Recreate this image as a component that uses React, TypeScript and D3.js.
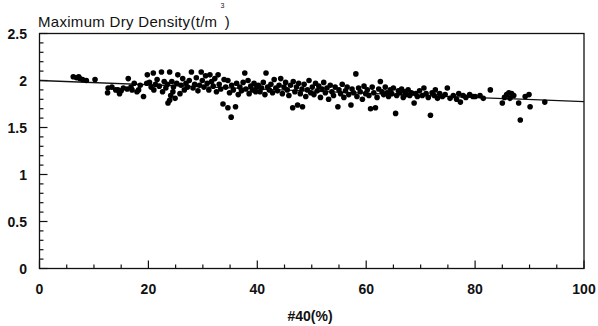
import { useEffect, useRef } from 'react';
import * as d3 from 'd3';

// #40 passing (%) vs maximum dry density (t/m3)
const samples: [number, number][] = [
  [6.2, 2.04], [6.8, 2.03], [7.2, 2.04], [7.4, 2.02], [7.9, 2.01], [8.6, 2.0], [10.2, 2.01],
  [12.6, 1.92], [12.5, 1.87], [13.3, 1.93], [14.0, 1.9], [14.4, 1.9], [14.7, 1.86], [15.0, 1.89],
  [15.4, 1.92], [16.1, 1.91], [16.3, 2.02], [16.8, 1.93], [17.0, 1.9], [17.4, 1.97], [17.9, 1.88],
  [18.2, 1.9], [18.5, 1.95], [19.1, 1.83], [19.7, 1.97], [19.8, 2.06],
  [20.2, 1.98], [20.5, 1.93], [20.9, 2.08], [21.0, 1.9], [21.3, 1.96], [21.6, 2.01], [22.0, 1.94],
  [22.4, 2.09], [22.6, 1.88], [22.9, 1.99], [23.2, 1.92], [23.5, 1.96], [23.6, 1.76], [23.9, 2.09],
  [23.9, 1.79], [24.1, 1.84], [24.3, 1.99], [24.5, 1.88], [24.6, 1.93], [24.9, 1.81], [25.2, 1.97],
  [25.4, 2.06], [25.8, 1.86], [26.0, 1.95], [26.3, 2.02], [26.6, 1.9], [26.9, 1.97], [27.2, 1.93],
  [27.5, 2.0], [27.9, 2.09], [28.2, 1.92], [28.5, 1.96], [28.8, 2.03], [29.1, 1.89], [29.4, 1.95],
  [29.7, 2.09], [29.9, 2.0],
  [30.2, 1.93], [30.5, 2.05], [30.8, 1.97], [31.1, 1.9], [31.3, 2.06], [31.6, 1.99], [31.9, 1.94],
  [32.2, 2.02], [32.5, 1.88], [32.8, 2.06], [33.0, 1.96], [33.3, 1.91], [33.7, 1.75], [33.9, 2.01],
  [34.2, 1.93], [34.6, 1.71], [34.6, 2.0], [34.9, 1.87], [35.2, 1.61], [35.3, 1.95], [35.6, 1.9],
  [36.0, 1.72], [36.2, 1.97], [36.5, 1.85], [36.8, 1.93], [37.1, 1.89], [37.4, 1.98], [37.7, 2.08],
  [37.9, 1.91], [38.3, 2.0], [38.5, 1.86], [38.8, 1.94], [39.1, 1.9], [39.4, 1.97], [39.7, 1.88],
  [39.9, 1.93],
  [40.2, 1.95], [40.5, 1.88], [40.8, 1.92], [41.1, 1.98], [41.4, 1.85], [41.6, 2.08], [41.9, 1.93],
  [42.2, 1.9], [42.5, 1.96], [42.8, 1.87], [43.1, 2.01], [43.4, 1.92], [43.7, 1.89], [44.0, 1.95],
  [44.3, 2.02], [44.6, 1.86], [44.9, 1.93], [45.2, 1.98], [45.5, 1.9], [45.8, 1.84], [46.1, 1.95],
  [46.5, 1.71], [46.6, 1.99], [46.9, 1.88], [47.2, 1.93], [47.4, 1.74], [47.6, 1.97], [47.9, 1.86],
  [48.2, 1.91], [48.3, 1.72], [48.6, 1.96], [48.9, 1.83], [49.2, 1.9], [49.5, 2.0], [49.8, 1.87],
  [50.1, 1.93], [50.4, 1.85], [50.7, 1.97], [51.0, 1.89], [51.3, 1.94], [51.6, 1.82], [51.9, 1.91],
  [52.2, 1.98], [52.5, 1.87], [52.8, 1.92], [53.1, 1.8], [53.4, 1.95], [53.7, 1.88], [54.0, 1.84],
  [54.3, 1.93], [54.8, 1.72], [55.0, 1.9], [55.3, 1.86], [55.6, 1.96], [55.9, 1.82], [56.2, 1.89],
  [56.5, 1.93], [56.8, 1.85], [57.2, 1.74], [57.4, 1.91], [57.7, 1.87], [58.1, 2.07], [58.3, 1.83],
  [58.6, 1.92], [58.9, 1.88], [59.3, 1.8], [59.6, 1.94], [59.9, 1.86],
  [60.2, 1.9], [60.5, 1.84], [60.8, 1.7], [61.1, 1.93], [61.4, 1.87], [61.7, 1.71], [62.0, 1.82],
  [62.3, 1.91], [62.6, 1.99], [62.9, 1.88], [63.2, 1.85], [63.5, 1.93], [63.8, 1.87], [64.1, 1.83],
  [64.4, 1.9], [64.7, 1.86], [65.0, 1.92], [65.4, 1.65], [65.6, 1.84], [65.9, 1.89], [66.2, 1.87],
  [66.5, 1.91], [66.8, 1.82], [67.1, 1.88], [67.4, 1.85], [67.7, 1.9], [68.0, 1.84], [68.3, 1.87],
  [68.8, 1.76], [69.1, 1.86], [69.4, 1.83], [69.8, 1.89],
  [70.3, 1.84], [70.6, 1.92], [71.0, 1.86], [71.4, 1.82], [71.8, 1.63], [72.1, 1.87], [72.5, 1.84],
  [72.7, 1.9], [73.1, 1.81], [73.5, 1.86], [74.0, 1.83], [74.5, 1.85], [74.9, 1.92], [75.4, 1.81],
  [76.0, 1.84], [76.6, 1.8], [77.0, 1.86], [77.3, 1.77], [77.8, 1.84], [78.3, 1.82], [79.0, 1.85],
  [79.6, 1.83],
  [80.0, 1.83], [80.9, 1.84], [81.5, 1.81], [82.8, 1.9], [85.0, 1.76], [85.4, 1.82], [85.8, 1.85],
  [86.2, 1.87], [86.4, 1.81], [86.7, 1.86], [87.1, 1.84], [88.0, 1.76], [88.3, 1.58], [89.2, 1.83],
  [89.9, 1.85], [90.1, 1.72], [92.8, 1.77],
];

// fitted trend line end points
const trendLine: [number, number][] = [[0, 2.0], [100, 1.775]];

const xTicks = [0, 20, 40, 60, 80, 100];
const yTicks = [0, 0.5, 1, 1.5, 2, 2.5];

export default function App() {
  const svgRef = useRef<SVGSVGElement>(null);

  useEffect(() => {
    if (!svgRef.current) return;
    d3.select(svgRef.current).selectAll('*').remove();

    const W = 598;
    const H = 326;
    const left = 39.5, right = 584, top = 33.5, bottom = 268.5;

    const svg = d3.select(svgRef.current).attr('width', W).attr('height', H);

    const x = d3.scaleLinear().domain([0, 100]).range([left, right]);
    const y = d3.scaleLinear().domain([0, 2.5]).range([bottom, top]);

    const font = "'Liberation Sans', Arial, sans-serif";

    // frame
    svg.append('rect')
      .attr('x', left).attr('y', top)
      .attr('width', right - left).attr('height', bottom - top)
      .attr('fill', 'none').attr('stroke', '#111').attr('stroke-width', 1.3);

    // minor + major ticks (inward)
    d3.range(0, 101, 5).forEach(v => {
      const len = v % 20 === 0 ? 8 : 4;
      svg.append('line')
        .attr('x1', x(v)).attr('x2', x(v))
        .attr('y1', bottom).attr('y2', bottom - len)
        .attr('stroke', '#111').attr('stroke-width', 1.2);
    });
    d3.range(0, 26, 1).forEach(i => {
      const v = i / 10;
      const len = i % 5 === 0 ? 8 : 4;
      svg.append('line')
        .attr('x1', left).attr('x2', left + len)
        .attr('y1', y(v)).attr('y2', y(v))
        .attr('stroke', '#111').attr('stroke-width', 1.2);
    });

    // tick labels
    svg.selectAll('.xt')
      .data(xTicks)
      .enter()
      .append('text')
      .attr('x', d => x(d))
      .attr('y', 294)
      .attr('text-anchor', 'middle')
      .attr('font-family', font)
      .attr('font-weight', 'bold')
      .attr('font-size', 14)
      .attr('fill', '#111')
      .text(d => String(d));

    svg.selectAll('.yt')
      .data(yTicks)
      .enter()
      .append('text')
      .attr('x', 27)
      .attr('y', d => y(d) + 5)
      .attr('text-anchor', 'end')
      .attr('font-family', font)
      .attr('font-weight', 'bold')
      .attr('font-size', 14)
      .attr('fill', '#111')
      .text(d => String(d));

    // trend line
    svg.append('path')
      .datum(trendLine)
      .attr('d', d3.line<[number, number]>().x(d => x(d[0])).y(d => y(d[1])))
      .attr('fill', 'none')
      .attr('stroke', '#111')
      .attr('stroke-width', 1.3);

    // points
    svg.selectAll('.pt')
      .data(samples)
      .enter()
      .append('circle')
      .attr('cx', d => x(d[0]))
      .attr('cy', d => y(d[1]))
      .attr('r', 2.8)
      .attr('fill', '#000');

    // titles
    const title = svg.append('text')
      .attr('x', 38)
      .attr('y', 27)
      .attr('font-family', font)
      .attr('font-size', 15)
      .attr('letter-spacing', 0.3)
      .attr('fill', '#111')
      .text('Maximum Dry Density(t/m');
    title.append('tspan')
      .attr('font-size', 7)
      .attr('dx', 3)
      .attr('dy', -19)
      .text('3');
    title.append('tspan')
      .attr('dy', 19)
      .attr('dx', 0)
      .text(')');

    svg.append('text')
      .attr('x', 310)
      .attr('y', 321)
      .attr('text-anchor', 'middle')
      .attr('font-family', font)
      .attr('font-weight', 'bold')
      .attr('font-size', 14)
      .attr('fill', '#111')
      .text('#40(%)');
  }, []);

  return (
    <div style={{ position: 'absolute', left: 0, top: 0, background: '#fff' }}>
      <svg ref={svgRef} style={{ display: 'block' }} />
    </div>
  );
}
